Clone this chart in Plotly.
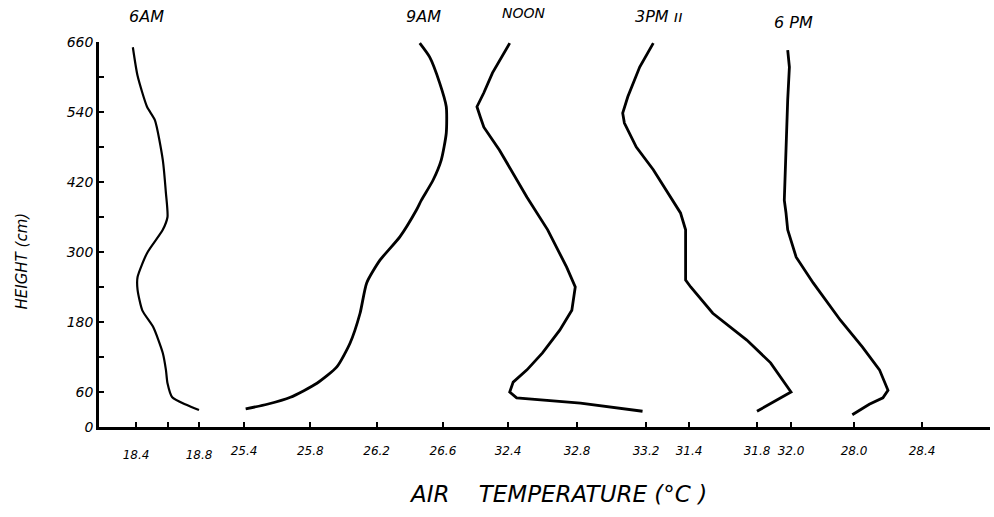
import plotly.graph_objects as go

# ---------------- data (height in cm, air temperature in °C) ----------------
h_6am = [651, 602, 549, 526, 458, 401, 360, 338, 298, 257, 235, 200, 171, 127, 98, 75, 51, 38, 29]
t_6am = [18.38, 18.41, 18.47, 18.52, 18.57, 18.59, 18.60, 18.57, 18.47, 18.41, 18.41, 18.44,
         18.51, 18.57, 18.59, 18.60, 18.63, 18.72, 18.80]

h_9am = [658, 634, 590, 549, 504, 458, 423, 389, 372, 326, 286, 247, 195, 144, 103, 75, 51, 39, 31]
t_9am = [26.46, 26.52, 26.58, 26.62, 26.62, 26.59, 26.54, 26.47, 26.44, 26.34, 26.22, 26.14,
         26.10, 26.04, 25.96, 25.84, 25.68, 25.54, 25.41]

h_noon = [658, 607, 573, 549, 531, 514, 475, 435, 394, 338, 274, 240, 200, 166, 127, 98, 77, 60, 50, 41, 27]
t_noon = [32.41, 32.31, 32.26, 32.22, 32.24, 32.26, 32.35, 32.43, 32.51, 32.63, 32.74, 32.79,
          32.77, 32.70, 32.60, 32.51, 32.43, 32.41, 32.45, 32.82, 33.18]

h_3pm = [658, 617, 566, 538, 521, 480, 441, 394, 367, 338, 252, 240, 195, 149, 110, 60, 50, 27]
t_3pm = [31.19, 31.11, 31.04, 31.01, 31.02, 31.09, 31.19, 31.29, 31.35, 31.38, 31.38, 31.41,
         31.54, 31.74, 31.88, 32.00, 31.94, 31.80]

h_6pm = [646, 617, 561, 475, 389, 367, 338, 291, 247, 183, 137, 98, 63, 50, 39, 21]
t_6pm = [27.61, 27.62, 27.61, 27.60, 27.59, 27.60, 27.61, 27.66, 27.76, 27.92, 28.05, 28.15,
         28.20, 28.17, 28.09, 27.99]

labels = ["6AM", "9AM", "NOON", "3PM ıı", "6 PM"]

tick_6am = [18.4, 18.6, 18.8]
tick_6am_text = ["18.4", "", "18.8"]
tick_9am = [25.4, 25.8, 26.2, 26.6]
tick_9am_text = ["25.4", "25.8", "26.2", "26.6"]
tick_noon = [32.4, 32.8, 33.2]
tick_noon_text = ["32.4", "32.8", "33.2"]
tick_3pm = [31.4, 31.8, 32.0]
tick_3pm_text = ["31.4", "31.8", "32.0"]
tick_6pm = [28.0, 28.4]
tick_6pm_text = ["28.0", "28.4"]

y_ticks = [0, 60, 120, 180, 240, 300, 360, 420, 480, 540, 600, 660]
y_tick_text = ["0", "60", "", "180", "", "300", "", "420", "", "540", "", "660"]

# ---------------- layout helpers ----------------
W, H = 994, 517
ML, MR, MT, MB = 99, 4, 42, 90
PX0, PX1 = ML, W - MR


def axis_range(t_anchor, px_anchor, px_per_deg):
    return [t_anchor - (px_anchor - PX0) / px_per_deg, t_anchor + (PX1 - px_anchor) / px_per_deg]


FONT = "DejaVu Sans"
tickfont = dict(family=FONT, size=12, color="black", style="italic")

series = [
    (t_6am, h_6am, "x", tick_6am, tick_6am_text, axis_range(18.4, 136, 157.5), 2.2, "spline", 14, 14, 16),
    (t_9am, h_9am, "x2", tick_9am, tick_9am_text, axis_range(25.4, 244, 165.8), 2.8, "spline", 4, 14, 16),
    (t_noon, h_noon, "x3", tick_noon, tick_noon_text, axis_range(32.4, 508, 172.5), 2.8, "linear", 14, 19, 14),
    (t_3pm, h_3pm, "x4", tick_3pm, tick_3pm_text, axis_range(31.4, 689, 170.0), 2.8, "linear", 6, 14, 16),
    (t_6pm, h_6pm, "x5", tick_6pm, tick_6pm_text, axis_range(28.0, 854, 170.0), 2.8, "linear", 6, 8, 16),
]

fig = go.Figure()
annotations = []
for i, (t, h, xa, tv, tt, rng, lw, shape, xs, ys, fs) in enumerate(series):
    fig.add_trace(go.Scatter(
        x=t, y=h, xaxis=xa, yaxis="y", mode="lines",
        line=dict(color="black", width=lw, shape=shape, smoothing=0.6),
        showlegend=False, hoverinfo="skip",
    ))
    axis_name = "xaxis" if xa == "x" else "xaxis" + xa[1:]
    ax = dict(
        range=rng, tickmode="array", tickvals=tv, ticktext=tt,
        ticks="inside", ticklen=5, tickwidth=2, tickcolor="black",
        tickfont=tickfont, ticklabelstandoff=15,
        showgrid=False, zeroline=False, fixedrange=True,
    )
    if xa == "x":
        ax.update(showline=True, linecolor="black", linewidth=2.5)
    else:
        ax.update(overlaying="x", anchor="y", side="bottom", showline=False)
    fig.update_layout(**{axis_name: ax})
    annotations.append(dict(
        x=t[0], y=660, xref=xa, yref="y", text=labels[i], showarrow=False,
        xanchor="center", yanchor="bottom", xshift=xs, yshift=ys,
        font=dict(family=FONT, size=fs, color="black", style="italic"),
    ))

# x-axis title
annotations.append(dict(
    x=0.515, y=-0.135, xref="paper", yref="paper", yanchor="top", xanchor="center",
    text="AIR\u00a0\u00a0\u00a0\u00a0TEMPERATURE\u00a0(°C\u00a0)", showarrow=False,
    font=dict(family=FONT, size=23, color="black", style="italic"),
))
# y-axis title
annotations.append(dict(
    x=-0.0864, y=0.43, xref="paper", yref="paper", yanchor="middle", xanchor="center",
    text="HEIGHT (cm)", textangle=-90, showarrow=False,
    font=dict(family=FONT, size=15, color="black", style="italic"),
))

fig.update_layout(
    width=W, height=H,
    margin=dict(l=ML, r=MR, t=MT, b=MB),
    paper_bgcolor="white", plot_bgcolor="white",
    yaxis=dict(
        range=[0, 660], tickmode="array", tickvals=y_ticks, ticktext=y_tick_text,
        ticks="inside", ticklen=5, tickwidth=2, tickcolor="black",
        tickfont=dict(family=FONT, size=14, color="black", style="italic"),
        showline=True, linecolor="black", linewidth=2.5,
        showgrid=False, zeroline=False, fixedrange=True,
    ),
    annotations=annotations,
)

fig.write_html("out.html")
